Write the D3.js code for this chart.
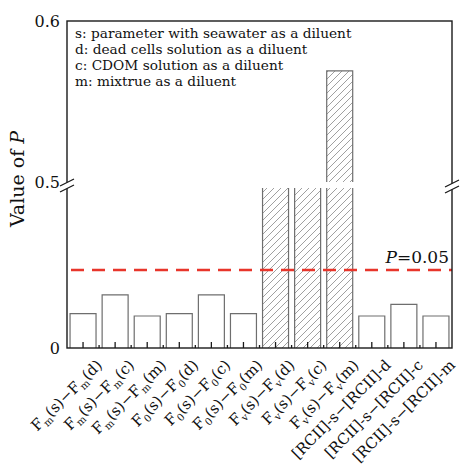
<!DOCTYPE html>
<html>
<head>
<meta charset="utf-8">
<script src="https://cdn.jsdelivr.net/npm/d3@7"></script>
<style>
  html, body { margin: 0; padding: 0; background: #fff; }
  svg { display: block; }
  text { font-family: "DejaVu Serif", "Liberation Serif", serif; fill: #111; }
</style>
</head>
<body>
<div id="chart"></div>
<script>
// ---------- data ----------
const categories = [
  "F_m(s)−F_m(d)", "F_m(s)−F_m(c)", "F_m(s)−F_m(m)",
  "F_0(s)−F_0(d)", "F_0(s)−F_0(c)", "F_0(s)−F_0(m)",
  "F_v(s)−F_v(d)", "F_v(s)−F_v(c)", "F_v(s)−F_v(m)",
  "[RCII]-s−[RCII]-d", "[RCII]-s−[RCII]-c", "[RCII]-s−[RCII]-m"
];
const pValues = [0.022, 0.034, 0.0205, 0.022, 0.034, 0.022, 0.30, 0.30, 0.569, 0.0205, 0.028, 0.0205];
const threshold = 0.05;
const lowerDomain = [0, 0.1];
const upperDomain = [0.5, 0.6];
const yTickLow = [0];
const yTickHigh = [0.5, 0.6];
const legendLines = [
  "s: parameter with seawater as a diluent",
  "d: dead cells solution as a diluent",
  "c: CDOM solution as a diluent",
  "m: mixtrue as a diluent"
];

// ---------- layout ----------
const W = 464, H = 471;
const pL = 67, pR = 452, pT = 21, pB = 348;
const lowTop = 188, highBottom = 182;

const svg = d3.select("#chart").append("svg").attr("width", W).attr("height", H);

const defs = svg.append("defs");
const pat = defs.append("pattern").attr("id", "hatch")
  .attr("patternUnits", "userSpaceOnUse").attr("width", 7).attr("height", 7);
pat.append("path").attr("d", "M-1,1 L1,-1 M0,7 L7,0 M6,8 L8,6")
  .attr("stroke", "#808080").attr("stroke-width", 0.75);

const x = d3.scaleBand().domain(categories).range([pL, pR])
  .paddingInner(0.19).paddingOuter(0.095);
const yLow = d3.scaleLinear().domain(lowerDomain).range([pB, 192]);
const yHigh = d3.scaleLinear().domain(upperDomain).range([highBottom, pT]);
const lowMax = yLow.invert(lowTop);

const data = categories.map((c, i) => ({ c, v: pValues[i] }));

// ---------- bars ----------
const barG = svg.append("g");
data.forEach(d => {
  const x0 = x(d.c), bw = x.bandwidth();
  const hatched = d.v > threshold;
  const fill = hatched ? "url(#hatch)" : "#fff";
  const yTopLow = d.v > lowMax ? yLow(lowMax) : yLow(d.v);
  barG.append("rect").attr("x", x0).attr("y", yTopLow).attr("width", bw)
    .attr("height", pB - yTopLow).attr("fill", fill);
  const pathLow = d.v > lowMax
    ? `M${x0},${pB}V${yTopLow}M${x0 + bw},${yTopLow}V${pB}`
    : `M${x0},${pB}V${yTopLow}H${x0 + bw}V${pB}`;
  barG.append("path").attr("d", pathLow).attr("fill", "none")
    .attr("stroke", "#6e6e6e").attr("stroke-width", 1.2);
  if (d.v > upperDomain[0]) {
    const yu = yHigh(Math.min(d.v, upperDomain[1]));
    barG.append("rect").attr("x", x0).attr("y", yu).attr("width", bw)
      .attr("height", highBottom - yu).attr("fill", fill);
    barG.append("path").attr("d", `M${x0},${highBottom}V${yu}H${x0 + bw}V${highBottom}`)
      .attr("fill", "none").attr("stroke", "#6e6e6e").attr("stroke-width", 1.2);
  }
});

// ---------- threshold line ----------
svg.append("line").attr("x1", pL).attr("x2", pR)
  .attr("y1", yLow(threshold)).attr("y2", yLow(threshold))
  .attr("stroke", "#e8352b").attr("stroke-width", 2.6)
  .attr("stroke-dasharray", "13,8").attr("stroke-dashoffset", -4);

const pLab = svg.append("text").attr("x", 449).attr("y", yLow(threshold) - 7)
  .attr("text-anchor", "end").attr("font-size", 17);
pLab.append("tspan").attr("font-style", "italic").text("P");
pLab.append("tspan").text("=0.05");

// ---------- frame ----------
svg.append("rect").attr("x", pL).attr("y", pT).attr("width", pR - pL)
  .attr("height", pB - pT).attr("fill", "none")
  .attr("stroke", "#1a1a1a").attr("stroke-width", 1.4);

const xAxis = d3.axisBottom(x).tickSize(-6).tickFormat("");
const xa = svg.append("g").attr("transform", `translate(0,${pB})`).call(xAxis);
xa.select(".domain").remove();
xa.selectAll("line").attr("stroke", "#1a1a1a").attr("stroke-width", 1.3);
const step = x.step();
const minor = categories.slice(1).map(c => x(c) - step * x.paddingInner() / 2);
svg.append("g").selectAll("line").data(minor).join("line")
  .attr("x1", d => d).attr("x2", d => d).attr("y1", pB).attr("y2", pB - 3)
  .attr("stroke", "#1a1a1a").attr("stroke-width", 1.3);

function breakMark(cx, cy) {
  const g = svg.append("g");
  g.append("path").attr("d", `M${cx - 7},${cy - 1}L${cx + 7},${cy - 8}L${cx + 7},${cy - 2}L${cx - 7},${cy + 5}Z`)
    .attr("fill", "#fff").attr("stroke", "none");
  g.append("path").attr("d", `M${cx - 7},${cy - 1}L${cx + 7},${cy - 8}M${cx - 7},${cy + 5}L${cx + 7},${cy - 2}`)
    .attr("stroke", "#1a1a1a").attr("stroke-width", 1.3);
}
breakMark(pL, 187);
breakMark(pR, 188);

const yaL = svg.append("g").attr("transform", `translate(${pL},0)`)
  .call(d3.axisLeft(yLow).tickValues(yTickLow).tickSize(0).tickPadding(7).tickFormat(d3.format("")));
const yaH = svg.append("g").attr("transform", `translate(${pL},0)`)
  .call(d3.axisLeft(yHigh).tickValues(yTickHigh).tickSize(0).tickPadding(7).tickFormat(d3.format("")));
[yaL, yaH].forEach(a => {
  a.select(".domain").remove();
  a.selectAll("text").attr("font-family", "DejaVu Serif").attr("font-size", 16).attr("fill", "#111");
});

const yTitle = svg.append("text").attr("transform", `translate(24,179) rotate(-90)`)
  .attr("text-anchor", "middle").attr("font-size", 19);
yTitle.append("tspan").text("Value of ");
yTitle.append("tspan").attr("font-style", "italic").text("P");

svg.append("g").selectAll("text").data(legendLines).join("text")
  .attr("x", 75).attr("y", (d, i) => 38 + i * 16)
  .attr("font-size", 13.7).text(d => d);

function parseLabel(s) {
  const parts = [];
  let buf = "";
  for (let i = 0; i < s.length; i++) {
    if (s[i] === "_" && i + 1 < s.length) {
      if (buf) parts.push({ t: buf, sub: false });
      parts.push({ t: s[i + 1], sub: true });
      buf = ""; i++;
    } else buf += s[i];
  }
  if (buf) parts.push({ t: buf, sub: false });
  return parts;
}
categories.forEach(c => {
  const cx = x(c) + x.bandwidth() / 2;
  const t = svg.append("text")
    .attr("transform", `translate(${cx + 20},${pB + 18}) rotate(-45)`)
    .attr("text-anchor", "end").attr("font-size", 15);
  let shifted = false;
  parseLabel(c).forEach(p => {
    const ts = t.append("tspan").text(p.t);
    if (p.sub) { ts.attr("font-size", 10).attr("dy", 4); shifted = true; }
    else if (shifted) { ts.attr("dy", -4); shifted = false; }
  });
});
</script>
</body>
</html>
